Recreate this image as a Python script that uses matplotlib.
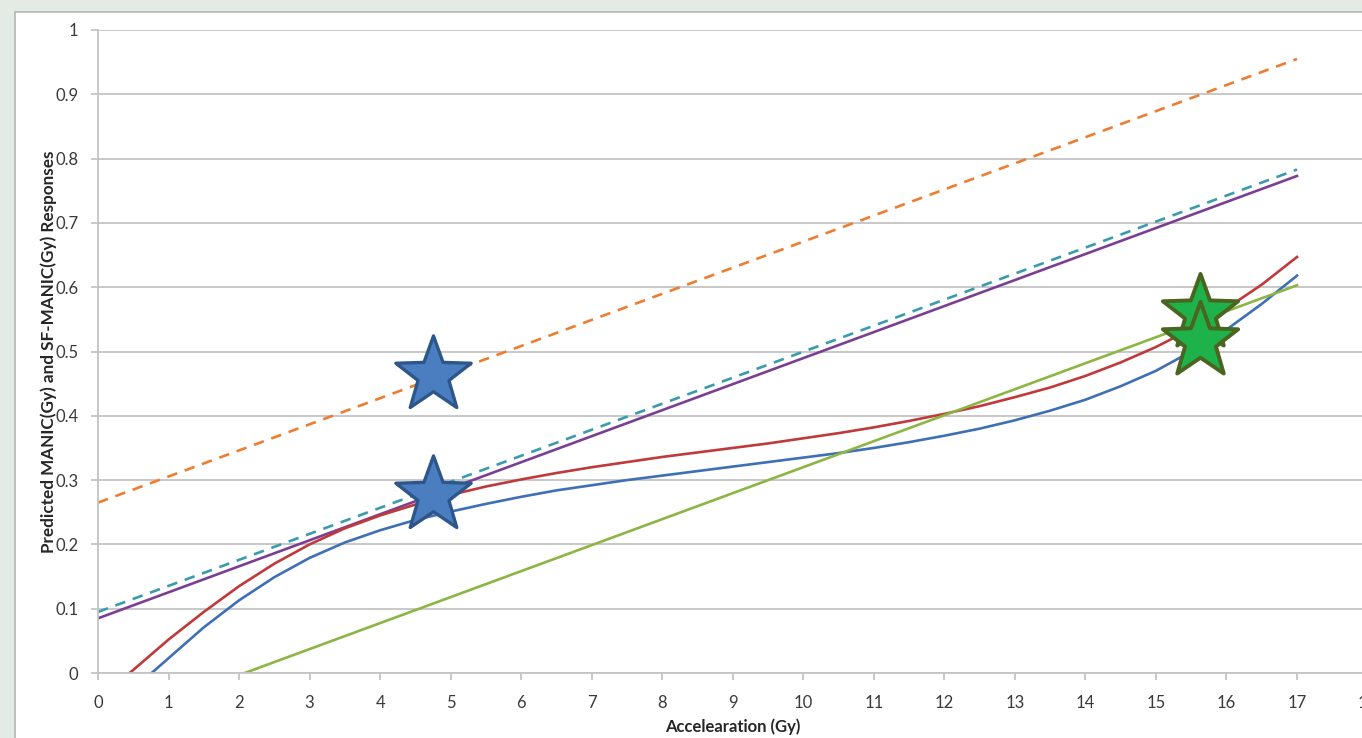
import matplotlib
matplotlib.use("Agg")
import matplotlib.pyplot as plt
from matplotlib.patches import Rectangle
from matplotlib.path import Path

# ---- data ----
orange_x = [0, 17]
orange_y = [0.265, 0.955]
teal_x = [0, 17]
teal_y = [0.095, 0.783]
purple_x = [0, 17]
purple_y = [0.085, 0.773]
green_x = [2.08, 17]
green_y = [0.0, 0.603]

red_x = [0.45, 1, 1.5, 2, 2.5, 3, 3.5, 4, 4.5, 5, 5.5, 6, 6.5, 7, 7.5, 8, 8.5, 9, 9.5, 10,
         10.5, 11, 11.5, 12, 12.5, 13, 13.5, 14, 14.5, 15, 15.5, 16, 16.5, 17]
red_y = [0.0, 0.052, 0.095, 0.135, 0.17, 0.2, 0.225, 0.245, 0.262, 0.277, 0.29, 0.301, 0.311, 0.32,
         0.328, 0.336, 0.343, 0.35, 0.357, 0.365, 0.373, 0.382, 0.392, 0.403, 0.415, 0.429, 0.444,
         0.462, 0.483, 0.507, 0.535, 0.567, 0.604, 0.647]

blue_x = [0.76, 1, 1.5, 2, 2.5, 3, 3.5, 4, 4.5, 5, 5.5, 6, 6.5, 7, 7.5, 8, 8.5, 9, 9.5, 10,
          10.5, 11, 11.5, 12, 12.5, 13, 13.5, 14, 14.5, 15, 15.5, 16, 16.5, 17]
blue_y = [0.0, 0.023, 0.071, 0.113, 0.149, 0.179, 0.203, 0.222, 0.238, 0.251, 0.263, 0.274, 0.284,
          0.292, 0.3, 0.307, 0.314, 0.321, 0.328, 0.335, 0.342, 0.35, 0.359, 0.369, 0.38, 0.393,
          0.408, 0.425, 0.446, 0.47, 0.5, 0.534, 0.574, 0.618]

blue_star_x = [4.75, 4.75]
blue_star_y = [0.463, 0.277]
green_star_x = [15.62, 15.62]
green_star_y = [0.56, 0.516]

x_ticks = list(range(0, 19))
y_ticks = [0, 0.1, 0.2, 0.3, 0.4, 0.5, 0.6, 0.7, 0.8, 0.9, 1]
y_tick_labels = ["0", "0.1", "0.2", "0.3", "0.4", "0.5", "0.6", "0.7", "0.8", "0.9", "1"]
x_label = "Accelearation (Gy)"
y_label = "Predicted MANIC(Gy) and SF-MANIC(Gy) Responses"

# ---- figure ----
W, H = 1362, 738
fig = plt.figure(figsize=(W / 100, H / 100), dpi=100)
fig.patch.set_facecolor("#e3ebe4")
fig.patches.append(Rectangle((15 / W, -0.01), 1.2, (H - 12) / H + 0.01, transform=fig.transFigure,
                             facecolor="white", edgecolor="#b5b5b5", linewidth=1.2, zorder=-10))

ax = fig.add_axes([98 / W, 65 / H, 18 * 70.53 / W, 643 / H])
ax.set_facecolor("none")
ax.set_xlim(0, 18)
ax.set_ylim(0, 1)

font = "Lato"
tick_color = "#3a3a3a"
ax.set_yticks(y_ticks)
ax.set_yticklabels(y_tick_labels, fontsize=12, family=font, color=tick_color)
ax.set_xticks(x_ticks)
ax.set_xticklabels([str(t) for t in x_ticks], fontsize=12, family=font, color=tick_color)
ax.tick_params(axis="x", direction="out", length=5, width=1.2, color="#bfbfbf", pad=11)
ax.tick_params(axis="y", direction="out", length=5, width=1.2, color="#bfbfbf", pad=9)

ax.grid(axis="y", color="#c4c4c4", linewidth=1.3)
ax.set_axisbelow(True)
for s in ["top", "right"]:
    ax.spines[s].set_visible(False)
ax.spines["left"].set_color("#c4c4c4")
ax.spines["bottom"].set_color("#c4c4c4")
ax.spines["left"].set_linewidth(1.3)
ax.spines["bottom"].set_linewidth(1.3)

lw = 1.9
ax.plot(orange_x, orange_y, color="#ED7D31", lw=lw, dashes=(4.0, 3.0))
ax.plot(teal_x, teal_y, color="#3A9BAA", lw=lw, dashes=(4.0, 3.0))
ax.plot(purple_x, purple_y, color="#7B3F91", lw=lw)
ax.plot(red_x, red_y, color="#C0393B", lw=lw)
ax.plot(blue_x, blue_y, color="#3F6FB5", lw=lw)
ax.plot(green_x, green_y, color="#8DB545", lw=lw)

star = Path.unit_regular_star(5, 0.41)
ax.plot(blue_star_x, blue_star_y, linestyle="none", marker=star, markersize=57,
        markerfacecolor="#4A7EC0", markeredgecolor="#2D578A", markeredgewidth=2.4, zorder=5, clip_on=False)
ax.plot(green_star_x, green_star_y, linestyle="none", marker=star, markersize=57,
        markerfacecolor="#1EB34A", markeredgecolor="#4A6520", markeredgewidth=2.8, zorder=5, clip_on=False)

ax.set_xlabel(x_label, fontsize=12, family=font, fontweight="bold", color="#262626", labelpad=5)
ax.set_ylabel(y_label, fontsize=12.3, family=font, fontweight="bold", color="#262626", labelpad=-1)

fig.savefig("out.png", dpi=100, facecolor=fig.get_facecolor())
